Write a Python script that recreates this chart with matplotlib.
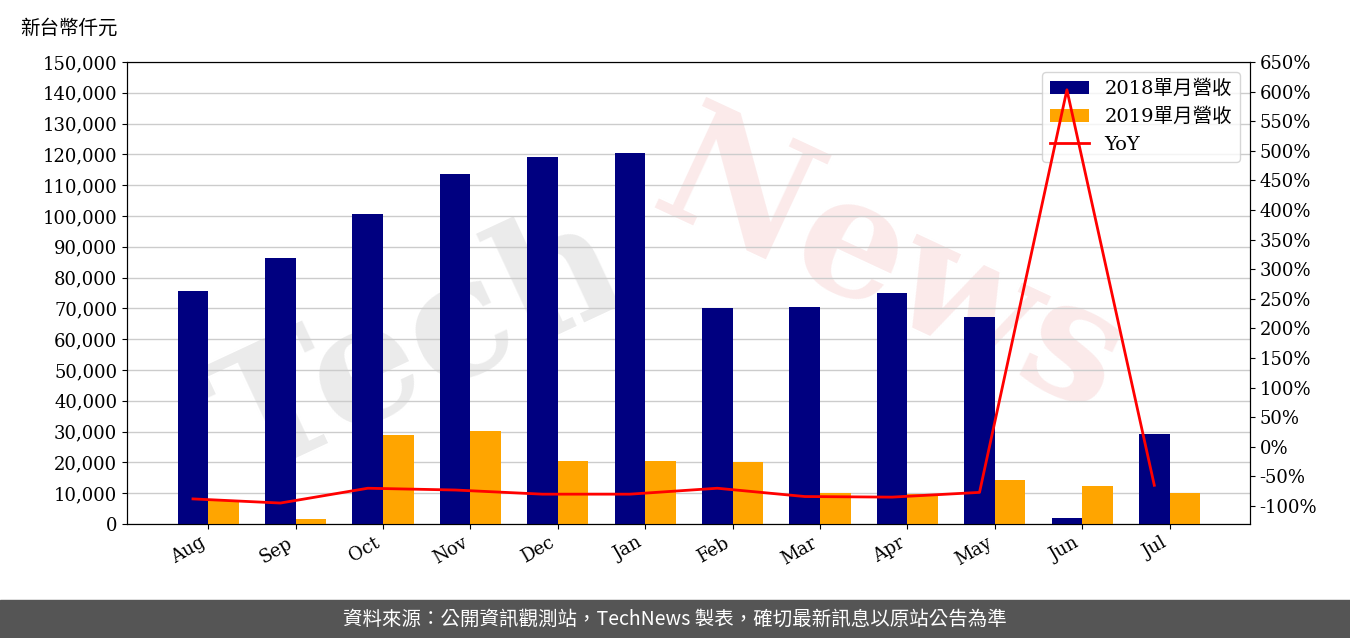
import matplotlib
matplotlib.use("Agg")
import matplotlib.pyplot as plt
import numpy as np
from matplotlib.ticker import FuncFormatter

months = ["Aug","Sep","Oct","Nov","Dec","Jan","Feb","Mar","Apr","May","Jun","Jul"]
rev2018 = [75500,86500,100800,113500,119000,120300,70000,70500,75000,67300,1800,29200]
rev2019 = [7500,1500,29000,30200,20300,20500,20000,10200,9700,14200,12500,10000]
yoy = [-88,-95,-70,-73,-80,-80,-70,-84,-85,-77,603,-65]

fam = ['DejaVu Serif','Noto Sans CJK TC']
plt.rcParams['font.family'] = fam
fig = plt.figure(figsize=(13.5,6.38), dpi=100)
ax = fig.add_axes([127/1350, 1-524/638, 1123/1350, 462/638])
x = np.arange(len(months))
w = 0.35
b1 = ax.bar(x-w/2, rev2018, w, color='#000080', label='2018單月營收', zorder=3)
b2 = ax.bar(x+w/2, rev2019, w, color='#FFA500', label='2019單月營收', zorder=3)
ax.set_ylim(0,150000)
ax.set_yticks(np.arange(0,150001,10000))
ax.yaxis.set_major_formatter(FuncFormatter(lambda v,p: f"{int(v):,}"))
ax.grid(axis='y', color='#cccccc', lw=1, zorder=0)
ax.set_xlim(-0.93, 11.92)
ax.set_xticks(x)
ax.set_xticklabels(months, rotation=30, ha='right')
ax.tick_params(labelsize=13)
ax.text(0.26, 0.38, 'Tech', transform=ax.transAxes, fontsize=120, rotation=25, color='#ebebeb',
        fontweight='bold', zorder=1, ha='center', va='center', clip_on=True)
ax.text(0.68, 0.55, 'News', transform=ax.transAxes, fontsize=120, rotation=-25, color='#fbeaea',
        fontweight='bold', zorder=1, ha='center', va='center', clip_on=True)
ax2 = ax.twinx()
l, = ax2.plot(x-w/2, yoy, color='red', lw=2, label='YoY')
ax2.set_ylim(-130.4,650)
ax2.set_yticks(np.arange(-100,651,50))
ax2.yaxis.set_major_formatter(FuncFormatter(lambda v,p: f"{int(v)}%"))
ax2.tick_params(labelsize=13)
ax.legend([b1,b2,l],['2018單月營收','2019單月營收','YoY'], loc='upper right',
          prop={'family':fam,'size':14}, bbox_to_anchor=(0.9995,0.9995))
fig.text(20/1350, 1-28/638, '新台幣仟元', fontsize=14, va='center', family=fam)
fig.patches.append(plt.Rectangle((0,0),1,38/638, transform=fig.transFigure, color='#555555', zorder=-1))
fig.text(0.5, 19/638, '資料來源：公開資訊觀測站，TechNews 製表，確切最新訊息以原站公告為準',
         color='white', fontsize=14, ha='center', va='center', family=['Noto Sans CJK TC'])
fig.savefig('out.png', dpi=100)
